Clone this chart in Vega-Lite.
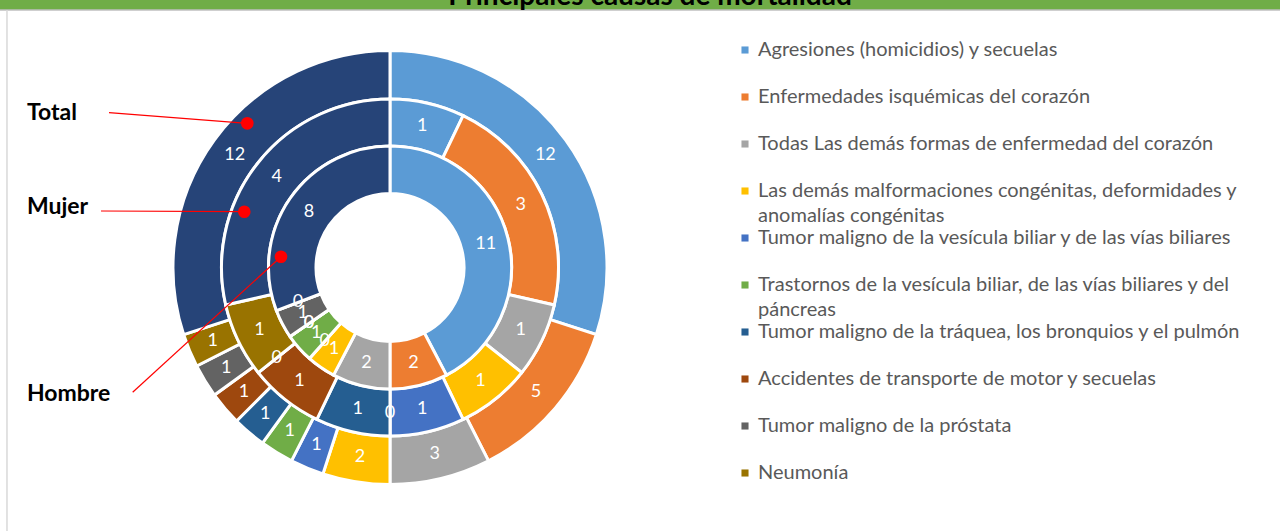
{
  "$schema": "https://vega.github.io/schema/vega-lite/v6.json",
  "width": 1280,
  "height": 531,
  "autosize": "none",
  "padding": 0,
  "background": "white",
  "config": {
    "view": {"stroke": null},
    "style": {"guide-label": {"lineHeight": 25}}
  },
  "resolve": {"scale": {"theta": "independent"}},
  "datasets": {
    "causas": [
      {"anillo": "Total", "causa": "Agresiones (homicidios) y secuelas", "idx": 1, "valor": 12},
      {"anillo": "Total", "causa": "Enfermedades isquémicas del corazón", "idx": 2, "valor": 5},
      {"anillo": "Total", "causa": "Todas Las demás formas de enfermedad del corazón", "idx": 3, "valor": 3},
      {"anillo": "Total", "causa": "Las demás malformaciones congénitas, deformidades y anomalías congénitas", "idx": 4, "valor": 2},
      {"anillo": "Total", "causa": "Tumor maligno de la vesícula biliar y de las vías biliares", "idx": 5, "valor": 1},
      {"anillo": "Total", "causa": "Trastornos de la vesícula biliar, de las vías biliares y del páncreas", "idx": 6, "valor": 1},
      {"anillo": "Total", "causa": "Tumor maligno de la tráquea, los bronquios y el pulmón", "idx": 7, "valor": 1},
      {"anillo": "Total", "causa": "Accidentes de transporte de motor y secuelas", "idx": 8, "valor": 1},
      {"anillo": "Total", "causa": "Tumor maligno de la próstata", "idx": 9, "valor": 1},
      {"anillo": "Total", "causa": "Neumonía", "idx": 10, "valor": 1},
      {"anillo": "Total", "causa": "Las demás causas", "idx": 11, "valor": 12},
      {"anillo": "Mujer", "causa": "Agresiones (homicidios) y secuelas", "idx": 1, "valor": 1},
      {"anillo": "Mujer", "causa": "Enfermedades isquémicas del corazón", "idx": 2, "valor": 3},
      {"anillo": "Mujer", "causa": "Todas Las demás formas de enfermedad del corazón", "idx": 3, "valor": 1},
      {"anillo": "Mujer", "causa": "Las demás malformaciones congénitas, deformidades y anomalías congénitas", "idx": 4, "valor": 1},
      {"anillo": "Mujer", "causa": "Tumor maligno de la vesícula biliar y de las vías biliares", "idx": 5, "valor": 1},
      {"anillo": "Mujer", "causa": "Trastornos de la vesícula biliar, de las vías biliares y del páncreas", "idx": 6, "valor": 0},
      {"anillo": "Mujer", "causa": "Tumor maligno de la tráquea, los bronquios y el pulmón", "idx": 7, "valor": 1},
      {"anillo": "Mujer", "causa": "Accidentes de transporte de motor y secuelas", "idx": 8, "valor": 1},
      {"anillo": "Mujer", "causa": "Tumor maligno de la próstata", "idx": 9, "valor": 0},
      {"anillo": "Mujer", "causa": "Neumonía", "idx": 10, "valor": 1},
      {"anillo": "Mujer", "causa": "Las demás causas", "idx": 11, "valor": 4},
      {"anillo": "Hombre", "causa": "Agresiones (homicidios) y secuelas", "idx": 1, "valor": 11},
      {"anillo": "Hombre", "causa": "Enfermedades isquémicas del corazón", "idx": 2, "valor": 2},
      {"anillo": "Hombre", "causa": "Todas Las demás formas de enfermedad del corazón", "idx": 3, "valor": 2},
      {"anillo": "Hombre", "causa": "Las demás malformaciones congénitas, deformidades y anomalías congénitas", "idx": 4, "valor": 1},
      {"anillo": "Hombre", "causa": "Tumor maligno de la vesícula biliar y de las vías biliares", "idx": 5, "valor": 0},
      {"anillo": "Hombre", "causa": "Trastornos de la vesícula biliar, de las vías biliares y del páncreas", "idx": 6, "valor": 1},
      {"anillo": "Hombre", "causa": "Tumor maligno de la tráquea, los bronquios y el pulmón", "idx": 7, "valor": 0},
      {"anillo": "Hombre", "causa": "Accidentes de transporte de motor y secuelas", "idx": 8, "valor": 0},
      {"anillo": "Hombre", "causa": "Tumor maligno de la próstata", "idx": 9, "valor": 1},
      {"anillo": "Hombre", "causa": "Neumonía", "idx": 10, "valor": 0},
      {"anillo": "Hombre", "causa": "Las demás causas", "idx": 11, "valor": 8}
    ],
    "etiquetas": [
      {"etiqueta": "Total", "u": -1.6845, "v": 0.7169},
      {"etiqueta": "Mujer", "u": -1.6845, "v": 0.2807},
      {"etiqueta": "Hombre", "u": -1.6845, "v": -0.587}
    ],
    "lineas": [
      {"anillo": "Total", "u": -1.3039, "v": 0.7183, "u2": -0.6622, "v2": 0.6691},
      {"anillo": "Mujer", "u": -1.3411, "v": 0.2622, "u2": -0.6761, "v2": 0.2589},
      {"anillo": "Hombre", "u": -1.194, "v": -0.5791, "u2": -0.5058, "v2": 0.0501}
    ],
    "marco": [
      {"u": -1.8097, "u2": 4.1299, "v": 1.2413, "v2": 1.1949}
    ],
    "titulo": [
      {"texto": "Principales causas de mortalidad", "u": 1.2065, "v": 1.2204}
    ]
  },
  "layer": [
    {
      "data": {"name": "marco"},
      "mark": {"type": "rect", "color": "#70AD47"},
      "encoding": {
        "x": {"field": "u", "type": "quantitative", "scale": {"domain": [-1.8097, 4.1299], "nice": false, "zero": false}, "axis": null},
        "x2": {"field": "u2"},
        "y": {"field": "v", "type": "quantitative", "scale": {"domain": [-1.2227, 1.2413], "nice": false, "zero": false}, "axis": null},
        "y2": {"field": "v2"}
      }
    },
    {
      "data": {"name": "marco"},
      "mark": {"type": "rule", "color": "#BFBFBF", "strokeWidth": 1.5},
      "encoding": {
        "x": {"field": "u", "type": "quantitative"},
        "x2": {"field": "u2"},
        "y": {"field": "v2", "type": "quantitative"}
      }
    },
    {
      "data": {"name": "marco"},
      "mark": {"type": "rule", "color": "#D9D9D9", "strokeWidth": 1.5},
      "encoding": {
        "x": {"datum": -1.7773, "type": "quantitative"},
        "y": {"field": "v2", "type": "quantitative"},
        "y2": {"datum": -1.2227}
      }
    },
    {
      "data": {"name": "titulo"},
      "mark": {"type": "text", "font": "Lato", "fontWeight": "bold", "fontSize": 28, "color": "#000000", "align": "center", "baseline": "alphabetic"},
      "encoding": {
        "x": {"field": "u", "type": "quantitative"},
        "y": {"field": "v", "type": "quantitative"},
        "text": {"field": "texto"}
      }
    },
    {
      "data": {"name": "causas"},
      "transform": [{"filter": "datum.anillo == 'Total'"}],
      "mark": {"type": "arc", "radius": 217, "radius2": 168.5, "stroke": "white", "strokeWidth": 3},
      "encoding": {
        "x": {"datum": 0, "type": "quantitative"},
        "y": {"datum": 0, "type": "quantitative"},
        "theta": {"field": "valor", "type": "quantitative", "stack": true},
        "order": {"field": "idx", "type": "quantitative"},
        "color": {
          "field": "causa",
          "type": "nominal",
          "scale": {
            "domain": [
              "Agresiones (homicidios) y secuelas",
              "Enfermedades isquémicas del corazón",
              "Todas Las demás formas de enfermedad del corazón",
              "Las demás malformaciones congénitas, deformidades y anomalías congénitas",
              "Tumor maligno de la vesícula biliar y de las vías biliares",
              "Trastornos de la vesícula biliar, de las vías biliares y del páncreas",
              "Tumor maligno de la tráquea, los bronquios y el pulmón",
              "Accidentes de transporte de motor y secuelas",
              "Tumor maligno de la próstata",
              "Neumonía",
              "Las demás causas"
            ],
            "range": ["#5B9BD5", "#ED7D31", "#A5A5A5", "#FFC000", "#4472C4", "#70AD47", "#255E91", "#9E480E", "#636363", "#997300", "#264478"]
          },
          "legend": {
            "orient": "none",
            "legendX": 735,
            "legendY": 40,
            "title": null,
            "columns": 1,
            "gridAlign": "all",
            "rowPadding": 2,
            "symbolType": "square",
            "symbolSize": 50,
            "symbolStrokeWidth": 0,
            "labelFont": "Lato",
            "labelFontSize": 20,
            "labelColor": "#595959",
            "labelLimit": 700,
            "labelOffset": 3,
            "labelBaseline": "middle",
            "values": [
              "Agresiones (homicidios) y secuelas",
              "Enfermedades isquémicas del corazón",
              "Todas Las demás formas de enfermedad del corazón",
              "Las demás malformaciones congénitas, deformidades y anomalías congénitas",
              "Tumor maligno de la vesícula biliar y de las vías biliares",
              "Trastornos de la vesícula biliar, de las vías biliares y del páncreas",
              "Tumor maligno de la tráquea, los bronquios y el pulmón",
              "Accidentes de transporte de motor y secuelas",
              "Tumor maligno de la próstata",
              "Neumonía"
            ],
            "labelExpr": "datum.label == 'Las demás malformaciones congénitas, deformidades y anomalías congénitas' ? ['Las demás malformaciones congénitas, deformidades y', 'anomalías congénitas'] : datum.label == 'Trastornos de la vesícula biliar, de las vías biliares y del páncreas' ? ['Trastornos de la vesícula biliar, de las vías biliares y del', 'páncreas'] : datum.label"
          }
        }
      }
    },
    {
      "data": {"name": "causas"},
      "transform": [{"filter": "datum.anillo == 'Mujer'"}],
      "mark": {"type": "arc", "radius": 168.5, "radius2": 121.5, "stroke": "white", "strokeWidth": 3},
      "encoding": {
        "x": {"datum": 0, "type": "quantitative"},
        "y": {"datum": 0, "type": "quantitative"},
        "theta": {"field": "valor", "type": "quantitative", "stack": true},
        "order": {"field": "idx", "type": "quantitative"},
        "color": {"field": "causa", "type": "nominal"}
      }
    },
    {
      "data": {"name": "causas"},
      "transform": [{"filter": "datum.anillo == 'Hombre'"}],
      "mark": {"type": "arc", "radius": 121.5, "radius2": 74, "stroke": "white", "strokeWidth": 3},
      "encoding": {
        "x": {"datum": 0, "type": "quantitative"},
        "y": {"datum": 0, "type": "quantitative"},
        "theta": {"field": "valor", "type": "quantitative", "stack": true},
        "order": {"field": "idx", "type": "quantitative"},
        "color": {"field": "causa", "type": "nominal"}
      }
    },
    {
      "data": {"name": "causas"},
      "transform": [{"filter": "datum.anillo == 'Total'"}],
      "mark": {"type": "text", "radius": 192, "font": "Lato", "fontSize": 18, "color": "white"},
      "encoding": {
        "x": {"datum": 0, "type": "quantitative"},
        "y": {"datum": 0, "type": "quantitative"},
        "theta": {"field": "valor", "type": "quantitative", "stack": true},
        "order": {"field": "idx", "type": "quantitative"},
        "text": {"field": "valor", "type": "quantitative"}
      }
    },
    {
      "data": {"name": "causas"},
      "transform": [{"filter": "datum.anillo == 'Mujer'"}],
      "mark": {"type": "text", "radius": 145, "font": "Lato", "fontSize": 18, "color": "white"},
      "encoding": {
        "x": {"datum": 0, "type": "quantitative"},
        "y": {"datum": 0, "type": "quantitative"},
        "theta": {"field": "valor", "type": "quantitative", "stack": true},
        "order": {"field": "idx", "type": "quantitative"},
        "text": {"field": "valor", "type": "quantitative"}
      }
    },
    {
      "data": {"name": "causas"},
      "transform": [{"filter": "datum.anillo == 'Hombre'"}],
      "mark": {"type": "text", "radius": 98.5, "font": "Lato", "fontSize": 18, "color": "white"},
      "encoding": {
        "x": {"datum": 0, "type": "quantitative"},
        "y": {"datum": 0, "type": "quantitative"},
        "theta": {"field": "valor", "type": "quantitative", "stack": true},
        "order": {"field": "idx", "type": "quantitative"},
        "text": {"field": "valor", "type": "quantitative"}
      }
    },
    {
      "data": {"name": "lineas"},
      "mark": {"type": "rule", "color": "#FF0000", "strokeWidth": 1.2},
      "encoding": {
        "x": {"field": "u", "type": "quantitative"},
        "y": {"field": "v", "type": "quantitative"},
        "x2": {"field": "u2"},
        "y2": {"field": "v2"}
      }
    },
    {
      "data": {"name": "lineas"},
      "mark": {"type": "circle", "color": "#FF0000", "opacity": 1, "size": 160},
      "encoding": {
        "x": {"field": "u2", "type": "quantitative"},
        "y": {"field": "v2", "type": "quantitative"}
      }
    },
    {
      "data": {"name": "etiquetas"},
      "mark": {"type": "text", "font": "Lato", "fontWeight": "bold", "fontSize": 23, "color": "#000000", "align": "left", "baseline": "middle"},
      "encoding": {
        "x": {"field": "u", "type": "quantitative"},
        "y": {"field": "v", "type": "quantitative"},
        "text": {"field": "etiqueta"}
      }
    }
  ]
}
